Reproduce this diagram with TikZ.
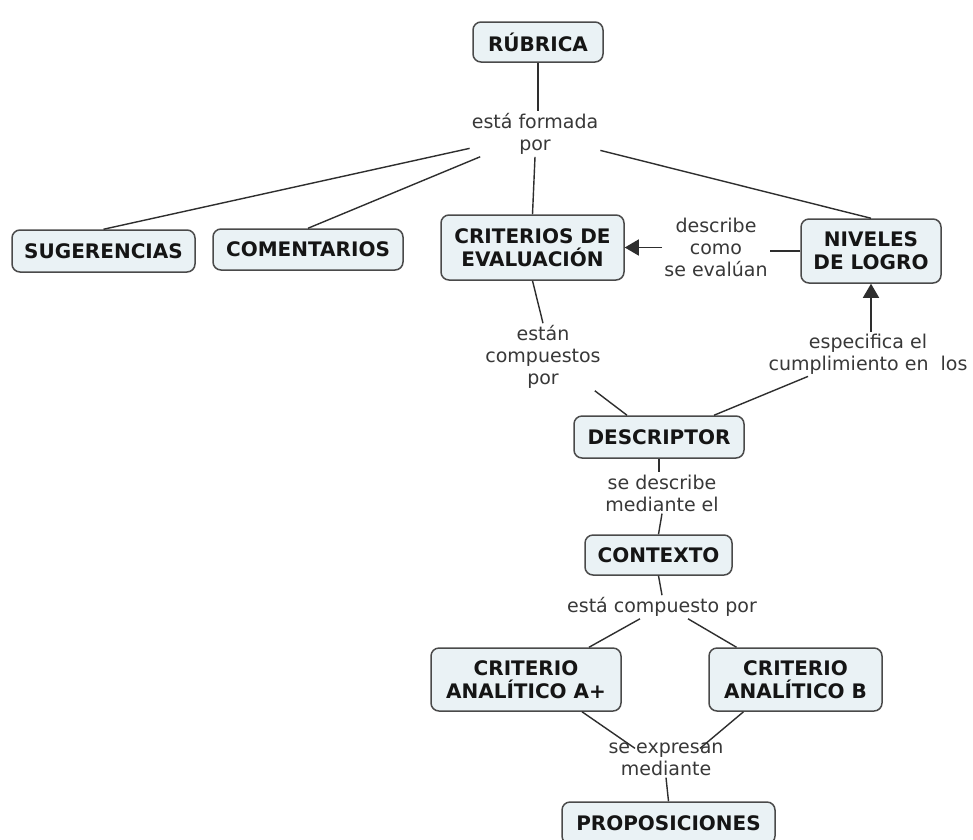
\documentclass[tikz,border=0pt]{standalone}
\usepackage{fontspec}
\setmainfont{DejaVu Sans}
\usetikzlibrary{arrows.meta}
\definecolor{boxfill}{HTML}{EAF2F5}
\definecolor{boxborder}{HTML}{4A4A4A}
\definecolor{conceptText}{HTML}{151515}
\definecolor{labelText}{HTML}{383838}
\definecolor{linkcol}{HTML}{2E2E2E}
\tikzset{
  concept/.style={draw=boxborder, line width=1.5pt, rounded corners=8pt, fill=boxfill,
    font=\bfseries\fontsize{20}{23}\selectfont, text=conceptText, align=center, inner sep=0pt},
  lbl/.style={font=\fontsize{19}{22}\selectfont, text=labelText, align=center, inner sep=2pt},
  link/.style={draw=linkcol, line width=1.4pt},
  arrowlink/.style={link, -{Triangle[length=14pt,width=16pt]}}
}
\begin{document}
\begin{tikzpicture}[x=1pt,y=-1pt]
\clip (0,0) rectangle (973,839);
\fill[white] (0,0) rectangle (973,839);

% concepts
\node[concept, minimum width=130pt, minimum height=40pt] (rub) at (538,42) {RÚBRICA};
\node[concept, minimum width=183pt, minimum height=42pt] (sug) at (103.5,251) {SUGERENCIAS};
\node[concept, minimum width=190pt, minimum height=41pt] (com) at (308,249.5) {COMENTARIOS};
\node[concept, minimum width=183pt, minimum height=65pt] (crit) at (532.5,247.5) {CRITERIOS DE\\EVALUACIÓN};
\node[concept, minimum width=140pt, minimum height=64pt] (niv) at (871,251) {NIVELES\\DE LOGRO};
\node[concept, minimum width=170pt, minimum height=42pt] (descr) at (659,437) {DESCRIPTOR};
\node[concept, minimum width=147pt, minimum height=40pt] (ctx) at (658.5,555) {CONTEXTO};
\node[concept, minimum width=190pt, minimum height=63pt] (aplus) at (526,679.5) {CRITERIO\\ANALÍTICO A+};
\node[concept, minimum width=173pt, minimum height=63pt] (bcrit) at (795.5,679.5) {CRITERIO\\ANALÍTICO B};
\node[concept, minimum width=213pt, minimum height=42pt] (prop) at (668.5,823) {PROPOSICIONES};

% linking phrases
\node[lbl] (fp) at (535,134) {está formada\\por};
\node[lbl] (dsc) at (716,247) {describe\\como\\se evalúan};
\node[lbl] (cmp) at (543,357) {están\\compuestos\\por};
\node[lbl] (esp) at (868,354) {especifica el\\cumplimiento en\ \ los};
\node[lbl] (sdm) at (662,493) {se describe\\mediante el};
\node[lbl] (ecp) at (662,607) {está compuesto por};
\node[lbl] (sem) at (666,759) {se expresan\\mediante};

% connectors
\draw[link] (rub.south) -- (rub.south |- fp.north);
\draw[link] (fp) -- (sug.north);
\draw[link] (fp) -- (com.north);
\draw[link] (fp.south) -- (crit.north);
\draw[link] (fp) -- (niv.north);
\draw[link] (niv.west) -- (niv.west -| dsc.east);
\draw[arrowlink] (dsc.west |- crit.east) -- (crit.east);
\draw[link] (crit.south) -- (cmp.north);
\draw[link] ([xshift=-8pt]cmp.south east) -- ([xshift=-32pt]descr.north);
\draw[arrowlink] (esp.north -| niv.south) -- (niv.south);
\draw[link] ([xshift=-60pt]esp.south) -- ([xshift=55pt]descr.north);
\draw[link] (descr.south) -- (descr.south |- sdm.north);
\draw[link] (sdm.south) -- (ctx.north);
\draw[link] (ctx.south) -- (ecp.north);
\draw[link] ([xshift=-22pt]ecp.south) -- ([xshift=63pt]aplus.north);
\draw[link] ([xshift=26pt]ecp.south) -- ([xshift=-59pt]bcrit.north);
\draw[link] ([xshift=56pt]aplus.south) -- ([xshift=-31pt,yshift=-8pt]sem.north);
\draw[link] ([xshift=-52pt]bcrit.south) -- ([xshift=34pt,yshift=-8pt]sem.north);
\draw[link] (sem.south) -- (prop.north);
\end{tikzpicture}
\end{document}
